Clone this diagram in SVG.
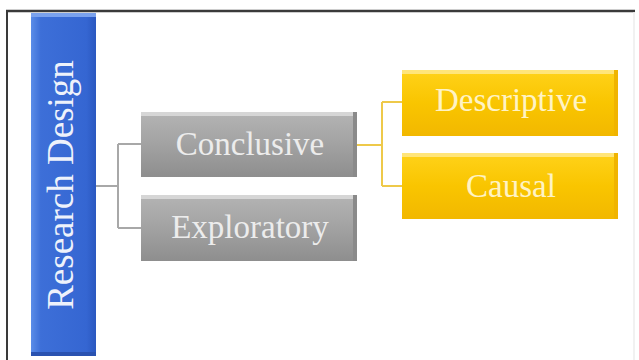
<svg xmlns="http://www.w3.org/2000/svg" width="639" height="360" viewBox="0 0 639 360">
<defs>
<linearGradient id="gGrey" x1="0" y1="0" x2="0" y2="1">
<stop offset="0" stop-color="#b4b4b4"/>
<stop offset="0.5" stop-color="#a2a2a2"/>
<stop offset="1" stop-color="#8e8e8e"/>
</linearGradient>
<linearGradient id="gYel" x1="0" y1="0" x2="0" y2="1">
<stop offset="0" stop-color="#ffd21a"/>
<stop offset="0.5" stop-color="#f9c500"/>
<stop offset="1" stop-color="#f2b800"/>
</linearGradient>
<linearGradient id="gBlue" x1="0" y1="0" x2="1" y2="0">
<stop offset="0" stop-color="#5b8de8"/>
<stop offset="0.15" stop-color="#3d6fd8"/>
<stop offset="0.85" stop-color="#3566d2"/>
<stop offset="1" stop-color="#2b58c0"/>
</linearGradient>
<style>
.lbl{font-family:"Liberation Serif","Times New Roman",serif;font-size:33px;text-anchor:middle}
.gt{fill:#ececec}
.yt{fill:#fff3c4}
.gc{stroke:#a8a8a8;stroke-width:2;fill:none}
.yc{stroke:#eec94a;stroke-width:2;fill:none}
</style>
</defs>
<rect x="0" y="0" width="639" height="360" fill="#ffffff"/>
<g id="frame">
<line x1="6" y1="11" x2="635" y2="11" stroke="#3a3a3a" stroke-width="2.5"/>
<line x1="7" y1="10" x2="7" y2="360" stroke="#3a3a3a" stroke-width="2"/>
<line x1="634" y1="12" x2="634" y2="360" stroke="#ececec" stroke-width="1.5"/>
</g>
<g id="connectors">
<path class="gc" d="M96 186 H118 M118 144 V228 M118 144 H141 M118 228 H141"/>
<path class="yc" d="M357 145 H382 M382 102 V186 M382 102 H402 M382 186 H402"/>
</g>
<g id="research-design">
<rect x="31" y="13" width="65" height="343" fill="url(#gBlue)"/>
<rect x="31" y="13" width="65" height="4" fill="#7aa2ee"/>
<rect x="31" y="352" width="65" height="4" fill="#2a52b0"/>
<text class="lbl" transform="translate(73,185) rotate(-90)" style="font-size:37px" fill="#eef2fb">Research Design</text>
</g>
<g id="conclusive">
<rect x="141" y="112" width="216" height="65" fill="url(#gGrey)"/>
<rect x="141" y="112" width="216" height="4" fill="#d6d6d6"/>
<rect x="353" y="112" width="4" height="65" fill="#8a8a8a"/>
<text class="lbl gt" x="250" y="155">Conclusive</text>
</g>
<g id="exploratory">
<rect x="141" y="195" width="216" height="66" fill="url(#gGrey)"/>
<rect x="141" y="195" width="216" height="4" fill="#d6d6d6"/>
<rect x="353" y="195" width="4" height="66" fill="#8a8a8a"/>
<text class="lbl gt" x="250" y="238">Exploratory</text>
</g>
<g id="descriptive">
<rect x="402" y="70" width="216" height="66" fill="url(#gYel)"/>
<rect x="402" y="70" width="216" height="4" fill="#ffe57a"/>
<rect x="614" y="70" width="4" height="66" fill="#f0b400"/>
<text class="lbl yt" x="511" y="111">Descriptive</text>
</g>
<g id="causal">
<rect x="402" y="153" width="216" height="66" fill="url(#gYel)"/>
<rect x="402" y="153" width="216" height="4" fill="#ffe57a"/>
<rect x="614" y="153" width="4" height="66" fill="#f0b400"/>
<text class="lbl yt" x="511" y="197">Causal</text>
</g>
</svg>
